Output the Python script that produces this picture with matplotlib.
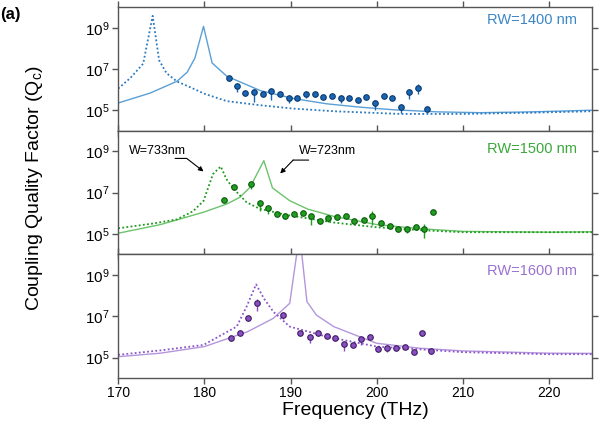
import numpy as np
import matplotlib
matplotlib.use("Agg")
import matplotlib.pyplot as plt
from matplotlib.ticker import FixedLocator, LogFormatterMathtext, NullLocator

plt.rcParams['font.family'] = ['Liberation Sans', 'DejaVu Sans']
plt.rcParams['mathtext.fontset'] = 'custom'
plt.rcParams['mathtext.rm'] = 'Liberation Sans'
plt.rcParams['mathtext.it'] = 'Liberation Sans:italic'

# ---- data (Q values given as log10 exponents) ----
# RW = 1400 nm
blue_dot_f = [170, 171.4, 172.9, 174.0, 174.75, 175.6, 176.8, 178.7, 180, 182.6, 186.5, 190.3, 195, 202.7, 210, 218, 225]
blue_dot_q = [6.05, 6.56, 7.26, 9.58, 7.42, 6.8, 6.4, 6.05, 5.8, 5.44, 5.24, 5.08, 4.95, 4.82, 4.82, 4.88, 4.95]
blue_sol_f = [170, 173.7, 176.8, 178, 178.9, 179.9, 180.9, 182.6, 186.5, 190.3, 194.2, 198, 202, 207, 212, 218, 225]
blue_sol_q = [5.35, 5.83, 6.4, 6.84, 7.53, 9.07, 7.29, 6.65, 5.95, 5.57, 5.31, 5.15, 5.02, 4.92, 4.88, 4.92, 5.0]
blue_pt_f = [182.8, 183.75, 184.75, 185.76, 186.76, 187.77, 188.77, 189.78, 190.78, 191.8, 192.8, 193.8,
             194.8, 195.8, 196.8, 197.8, 198.8, 199.8, 200.8, 201.8, 202.8, 203.8, 204.8, 205.8]
blue_pt_q = [6.58, 6.16, 5.83, 5.90, 5.79, 5.92, 5.77, 5.58, 5.58, 5.80, 5.79, 5.64,
             5.67, 5.59, 5.61, 5.48, 5.66, 5.34, 5.69, 5.61, 5.16, 5.90, 6.07, 5.08]
blue_err_lo = [0.15, 0.28, 0.15, 0.5, 0.1, 0.43, 0.05, 0.25, 0.05, 0.2, 0.15, 0.05,
               0.05, 0.25, 0.05, 0.05, 0.05, 0.35, 0.05, 0.05, 0.3, 0.35, 0.3, 0.15]
blue_err_hi = [0.1, 0.05, 0.05, 0.15, 0.05, 0.13, 0.05, 0.05, 0.05, 0.05, 0.05, 0.05,
               0.05, 0.05, 0.05, 0.05, 0.05, 0.16, 0.05, 0.05, 0.05, 0.15, 0.2, 0.05]

# RW = 1500 nm
green_dot_f = [170, 174, 176.8, 178.7, 179.9, 181.0, 181.9, 182.55, 183.4, 184.9, 186.45, 189.9, 195, 200, 205, 210, 225]
green_dot_q = [5.27, 5.5, 5.7, 6.1, 6.6, 7.9, 8.27, 7.66, 7.18, 6.53, 6.21, 5.89, 5.55, 5.32, 5.18, 5.08, 5.08]
green_sol_f = [170, 174.9, 179.9, 182.6, 184.1, 185.3, 186.9, 187.9, 189.9, 192, 195, 200, 205, 210, 220, 225]
green_sol_q = [5.03, 5.45, 6.05, 6.45, 6.77, 7.26, 8.55, 7.23, 6.61, 6.2, 5.85, 5.45, 5.25, 5.12, 5.08, 5.1]
green_pt_f = [182.3, 183.4, 185.4, 186.4, 187.4, 188.4, 189.4, 190.4, 191.4, 192.4, 193.4, 194.4,
              195.4, 196.4, 197.4, 198.5, 199.5, 200.5, 201.5, 202.5, 203.5, 204.5, 205.5, 206.5]
green_pt_q = [6.63, 7.26, 7.40, 6.52, 6.26, 5.97, 5.89, 5.97, 6.02, 5.89, 5.61, 5.78,
              5.84, 5.85, 5.64, 5.69, 5.89, 5.51, 5.38, 5.26, 5.26, 5.34, 5.26, 6.08]
green_err_lo = [0.05, 0.05, 0.2, 0.4, 0.3, 0.05, 0.15, 0.05, 0.05, 0.45, 0.05, 0.2,
                0.05, 0.05, 0.05, 0.05, 0.45, 0.05, 0.05, 0.15, 0.2, 0.05, 0.45, 0.05]
green_err_hi = [0.05, 0.05, 0.05, 0.08, 0.05, 0.05, 0.05, 0.05, 0.05, 0.05, 0.05, 0.05,
                0.05, 0.05, 0.05, 0.05, 0.2, 0.05, 0.05, 0.05, 0.05, 0.05, 0.2, 0.05]

# RW = 1600 nm
purple_dot_f = [170, 175, 179.9, 183.75, 184.9, 186.0, 186.9, 188.0, 189.9, 194.2, 200, 210, 220, 225]
purple_dot_q = [5.13, 5.35, 5.61, 6.5, 7.47, 8.55, 7.87, 7.22, 6.5, 6.01, 5.53, 5.26, 5.16, 5.16]
purple_sol_f = [170, 174.9, 180, 185, 188, 189.9, 191.05, 191.9, 193, 195, 198, 200, 205, 210, 220, 225]
purple_sol_q = [5.04, 5.21, 5.53, 6.25, 6.9, 7.63, 11.0, 7.71, 7.06, 6.5, 6.01, 5.69, 5.45, 5.32, 5.21, 5.2]
purple_pt_f = [183.1, 184.1, 185.1, 186.1, 189.1, 191.1, 192.2, 193.2, 194.2, 195.2, 196.2, 197.2,
               198.2, 199.2, 200.2, 201.2, 202.2, 203.3, 204.3, 205.3, 206.3]
purple_pt_q = [5.93, 6.21, 6.93, 7.64, 7.04, 6.18, 6.01, 6.18, 6.06, 5.96, 5.66, 5.61,
               5.90, 6.01, 5.43, 5.45, 5.46, 5.53, 5.29, 6.18, 5.32]
purple_err_lo = [0.05, 0.05, 0.15, 0.4, 0.15, 0.05, 0.3, 0.05, 0.05, 0.05, 0.35, 0.05,
                 0.3, 0.05, 0.05, 0.2, 0.05, 0.1, 0.05, 0.15, 0.15]
purple_err_hi = [0.05, 0.05, 0.05, 0.2, 0.05, 0.05, 0.05, 0.1, 0.05, 0.05, 0.05, 0.05,
                 0.05, 0.05, 0.05, 0.05, 0.05, 0.05, 0.05, 0.05, 0.05]

panels = [
    dict(label="RW=1400 nm", ly=0.90, text="#3a86c8", line="#5a9fd6", dot="#2a78c0", face="#1a66b2", edge="#0b3a70",
         dot_f=blue_dot_f, dot_q=blue_dot_q, sol_f=blue_sol_f, sol_q=blue_sol_q,
         pt_f=blue_pt_f, pt_q=blue_pt_q, lo=blue_err_lo, hi=blue_err_hi),
    dict(label="RW=1500 nm", ly=0.85, text="#3aa83a", line="#6cc36c", dot="#1e9a1e", face="#1f9e1f", edge="#0d5a0d",
         dot_f=green_dot_f, dot_q=green_dot_q, sol_f=green_sol_f, sol_q=green_sol_q,
         pt_f=green_pt_f, pt_q=green_pt_q, lo=green_err_lo, hi=green_err_hi),
    dict(label="RW=1600 nm", ly=0.87, text="#9a72d0", line="#b596dc", dot="#8a55c8", face="#8a4fc0", edge="#3e1d63",
         dot_f=purple_dot_f, dot_q=purple_dot_q, sol_f=purple_sol_f, sol_q=purple_sol_q,
         pt_f=purple_pt_f, pt_q=purple_pt_q, lo=purple_err_lo, hi=purple_err_hi),
]

fig, axes = plt.subplots(3, 1, figsize=(6, 4.22), dpi=100, sharex=True)
fig.subplots_adjust(left=0.197, right=0.987, bottom=0.104, top=0.983, hspace=0)

spine_c = "#555555"
for ax, p in zip(axes, panels):
    ax.set_yscale("log")
    ax.plot(p["sol_f"], 10 ** np.array(p["sol_q"]), color=p["line"], lw=1.0)
    ax.plot(p["dot_f"], 10 ** np.array(p["dot_q"]), color=p["dot"], lw=1.3, linestyle=(0, (1, 1.3)))
    q = np.array(p["pt_q"])
    yerr = [10 ** q - 10 ** (q - np.array(p["lo"])), 10 ** (q + np.array(p["hi"])) - 10 ** q]
    ax.errorbar(p["pt_f"], 10 ** q, yerr=yerr, fmt="o", ms=4, mfc=p["face"], mec=p["edge"], mew=0.8,
                ecolor=p["face"], elinewidth=1.0, capsize=0, zorder=3)
    ax.text(0.968, p["ly"], p["label"], transform=ax.transAxes, ha="right", va="center",
            color=p["text"], fontsize=10.5)
    ax.set_xlim(170, 225)
    ax.set_ylim(1e4, 1e10)
    ax.yaxis.set_major_locator(FixedLocator([1e5, 1e7, 1e9]))
    ax.yaxis.set_major_formatter(LogFormatterMathtext())
    ax.yaxis.set_minor_locator(NullLocator())
    ax.set_xticks([170, 180, 190, 200, 210, 220])
    ax.tick_params(direction="out", length=4, width=1, color=spine_c, top=True, right=True, pad=2)
    ax.tick_params(axis="y", labelsize=11)
    ax.tick_params(axis="x", labelsize=10)
    for s in ax.spines.values():
        s.set_color(spine_c)
        s.set_linewidth(1)

# annotations in the middle panel
ax = axes[1]
ax.text(174.6, 10 ** 9.03, "W=733nm", ha="center", va="center", fontsize=9)
ax.annotate("", xy=(176.6, 10 ** 8.66), xytext=(177.95, 10 ** 8.66),
            arrowprops=dict(arrowstyle="-", color="k", lw=0.8, shrinkA=0, shrinkB=0))
ax.annotate("", xy=(179.9, 10 ** 8.03), xytext=(177.95, 10 ** 8.66),
            arrowprops=dict(arrowstyle="-|>", color="k", lw=0.8, mutation_scale=7, shrinkA=0, shrinkB=0))
ax.text(194.3, 10 ** 9.03, "W=723nm", ha="center", va="center", fontsize=9)
ax.annotate("", xy=(192.1, 10 ** 8.58), xytext=(190.3, 10 ** 8.58),
            arrowprops=dict(arrowstyle="-", color="k", lw=0.8, shrinkA=0, shrinkB=0))
ax.annotate("", xy=(188.8, 10 ** 7.93), xytext=(190.3, 10 ** 8.58),
            arrowprops=dict(arrowstyle="-|>", color="k", lw=0.8, mutation_scale=7, shrinkA=0, shrinkB=0))

axes[2].set_xlabel("Frequency (THz)", fontsize=14, labelpad=1)
fig.text(0.058, 0.555, r"Coupling Quality Factor (Q$_{\mathrm{c}}$)", rotation=90,
         ha="center", va="center", fontsize=14)
fig.text(0.0, 0.965, "(a)", fontweight="bold", fontsize=12, ha="left", va="center")

fig.savefig("out.png", dpi=100)
